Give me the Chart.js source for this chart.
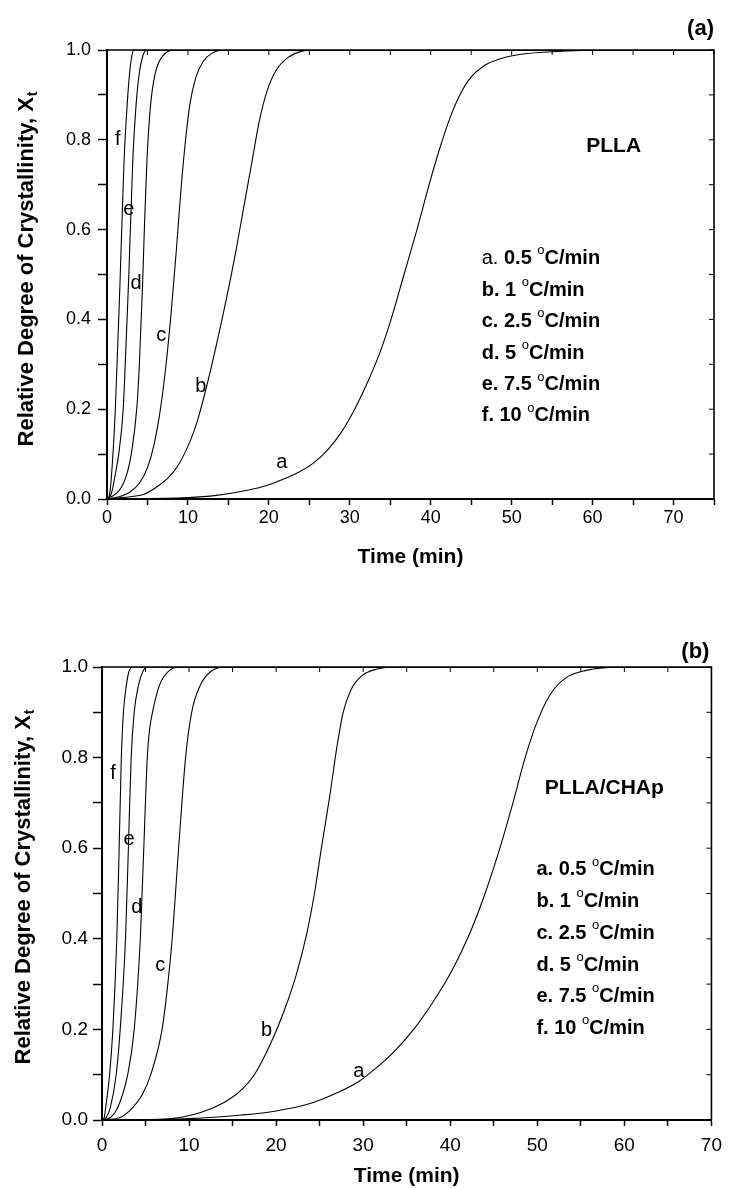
<!DOCTYPE html>
<html>
<head>
<meta charset="utf-8">
<script src="https://cdn.jsdelivr.net/npm/chart.js@4/dist/chart.umd.min.js"></script>
<style>
  html, body { margin: 0; padding: 0; background: #fff; }
  .panel { position: relative; width: 730px; height: 594px; }
</style>
</head>
<body>
<div class="panel"><canvas id="chartPLLA"></canvas></div>
<div class="panel"><canvas id="chartCHAp"></canvas></div>
<script>
// relative crystallinity Xt vs time (min) as [t, Xt]
// (a) PLLA
const pllaA = [[0,0],[10,0.003],[13.5,0.008],[17.5,0.02],[19.75,0.03],[21.5,0.042],[23.5,0.058],[25.5,0.08],[27.3,0.11],[29,0.15],[30.6,0.2],[32.2,0.26],[33.8,0.33],[35.1,0.4],[36.7,0.5],[38.3,0.6],[39.8,0.7],[41.1,0.78],[42.4,0.85],[43.6,0.9],[45,0.94],[46.6,0.965],[48.5,0.98],[51,0.99],[55,0.996],[62,1],[75,1]];
const pllaB = [[0,0],[3.3,0.006],[4.5,0.01],[6,0.025],[7.7,0.05],[8.8,0.075],[10.3,0.13],[11.1,0.17],[12.3,0.25],[13.6,0.35],[14.8,0.45],[15.9,0.55],[16.9,0.65],[17.9,0.75],[18.8,0.84],[19.8,0.91],[20.9,0.955],[22.5,0.985],[24,0.997],[26,1],[75,1]];
const pllaC = [[0,0],[1.5,0.005],[2.8,0.015],[4,0.035],[5,0.07],[5.8,0.12],[6.6,0.2],[7.3,0.3],[7.95,0.42],[8.55,0.55],[9.1,0.68],[9.65,0.79],[10.25,0.88],[11,0.94],[11.9,0.975],[13,0.993],[14.5,1],[75,1]];
const pllaD = [[0,0],[1.2,0.013],[1.9,0.03],[2.5,0.058],[3,0.1],[3.7,0.206],[4,0.3],[4.4,0.48],[4.65,0.62],[4.95,0.76],[5.4,0.88],[5.96,0.948],[6.8,0.985],[8.6,1],[75,1]];
const pllaE = [[0,0],[0.5,0.01],[1.03,0.055],[1.45,0.1],[2,0.2],[2.3,0.32],[2.7,0.5],[3.2,0.76],[3.6,0.88],[4,0.95],[4.4,0.985],[4.9,1],[75,1]];
const pllaF = [[0,0],[0.25,0.005],[0.5,0.04],[1.03,0.2],[1.64,0.5],[2.1,0.75],[2.5,0.88],[2.8,0.95],[3.05,0.985],[3.3,1],[75,1]];

// (b) PLLA/CHAp
const chapA = [[0,0],[10,0.003],[16,0.011],[20,0.02],[24,0.037],[27,0.06],[29.5,0.085],[31.5,0.115],[33.5,0.15],[35.8,0.2],[38,0.26],[40.2,0.33],[42.2,0.41],[44,0.5],[45.7,0.6],[47.2,0.7],[48.6,0.8],[50,0.88],[51.5,0.94],[53.2,0.975],[55.5,0.992],[60,1],[70,1]];
const chapB = [[0,0],[5,0.0005],[8,0.003],[10.3,0.011],[12.5,0.025],[14.5,0.044],[16.2,0.07],[17.5,0.1],[19.4,0.17],[20.9,0.24],[22.3,0.32],[23.5,0.41],[24.4,0.5],[25.2,0.6],[26.2,0.72],[26.95,0.82],[27.7,0.9],[28.6,0.95],[29.8,0.98],[31.5,0.995],[34,1],[70,1]];
const chapC = [[0,0],[2,0.005],[3.5,0.027],[4.6,0.055],[5.6,0.1],[6.9,0.2],[7.5,0.29],[8.06,0.4],[8.8,0.6],[9.6,0.8],[10.3,0.9],[11.3,0.96],[12.5,0.99],[14.2,1],[70,1]];
const chapD = [[0,0],[1,0.006],[1.8,0.027],[2.95,0.1],[3.7,0.2],[4.4,0.4],[4.8,0.6],[5.2,0.8],[5.45,0.86],[5.8,0.9],[6.6,0.96],[7.6,0.99],[9,1],[70,1]];
const chapE = [[0,0],[0.5,0.006],[0.95,0.027],[1.63,0.1],[2.09,0.2],[2.7,0.4],[3.03,0.6],[3.35,0.8],[3.7,0.9],[4.2,0.96],[4.7,0.99],[5.2,1],[70,1]];
const chapF = [[0,0],[0.25,0.005],[0.42,0.027],[0.87,0.1],[1.25,0.2],[1.7,0.4],[1.97,0.6],[2.22,0.8],[2.46,0.9],[2.8,0.96],[3.1,0.99],[3.5,1],[70,1]];

const curveLetters = ['a', 'b', 'c', 'd', 'e', 'f'];
const coolingRates = ['0.5', '1', '2.5', '5', '7.5', '10'];

const FONT = "'Liberation Sans', Arial, Helvetica, sans-serif";

// draws frame, inward ticks, curve letters, sample name and rate list
const annotations = {
  id: 'annotations',
  afterDatasetsDraw(chart, args, o) {
    const { ctx, chartArea: area, scales: { x, y } } = chart;
    ctx.save();
    ctx.strokeStyle = '#000';
    ctx.fillStyle = '#000';

    // top and right sides of the box
    ctx.lineWidth = 1.6;
    ctx.beginPath();
    ctx.moveTo(area.left, area.top);
    ctx.lineTo(area.right, area.top);
    ctx.lineTo(area.right, area.bottom);
    ctx.stroke();

    // mirrored ticks pointing inward
    ctx.lineWidth = 1;
    ctx.beginPath();
    x.ticks.forEach(t => {
      const px = x.getPixelForValue(t.value);
      ctx.moveTo(px, area.top);
      ctx.lineTo(px, area.top + 5);
    });
    y.ticks.forEach(t => {
      const py = y.getPixelForValue(t.value);
      ctx.moveTo(area.right, py);
      ctx.lineTo(area.right - 5, py);
    });
    ctx.stroke();

    // letters next to each curve
    ctx.textAlign = 'center';
    ctx.textBaseline = 'middle';
    ctx.font = `20px ${FONT}`;
    o.curveTags.forEach((p, i) => {
      ctx.fillText(curveLetters[i], x.getPixelForValue(p[0]), y.getPixelForValue(p[1]));
    });

    // sample name
    ctx.font = `bold 21px ${FONT}`;
    ctx.fillText(o.sample, x.getPixelForValue(o.samplePos[0]), y.getPixelForValue(o.samplePos[1]));

    // panel tag
    ctx.textAlign = 'right';
    ctx.font = `bold 22px ${FONT}`;
    ctx.fillText(o.panel, area.right + o.panelShift[0], area.top + o.panelShift[1]);

    // list of cooling rates
    ctx.textAlign = 'left';
    const lx = x.getPixelForValue(o.listPos[0]);
    o.listRows.forEach((row, i) => {
      const ly = y.getPixelForValue(row);
      const parts = [
        { text: curveLetters[i] + '. ', font: (i === 0 && !o.firstBold ? '' : 'bold ') + `20px ${FONT}`, dy: 0 },
        { text: coolingRates[i] + ' ', font: `bold 20px ${FONT}`, dy: 0 },
        { text: 'o', font: `13px ${FONT}`, dy: -8 },
        { text: 'C/min', font: `bold 20px ${FONT}`, dy: 0 }
      ];
      let cx = lx;
      parts.forEach(p => {
        ctx.font = p.font;
        ctx.fillText(p.text, cx, ly + p.dy);
        cx += ctx.measureText(p.text).width;
      });
    });

    // y axis title with subscript t
    const main = 'Relative Degree of Crystallinity, X';
    ctx.font = `bold 22px ${FONT}`;
    const wMain = ctx.measureText(main).width;
    ctx.font = `bold 14px ${FONT}`;
    const wSub = ctx.measureText('t').width;
    ctx.translate(o.yTitleX, (area.top + area.bottom) / 2 + o.yTitleShift);
    ctx.rotate(-Math.PI / 2);
    const start = -(wMain + wSub) / 2;
    ctx.font = `bold 22px ${FONT}`;
    ctx.fillText(main, start, 0);
    ctx.font = `bold 14px ${FONT}`;
    ctx.fillText('t', start + wMain + 1, 6);
    ctx.restore();
  }
};

function series(list) {
  return list.map((pts, i) => ({
    label: curveLetters[i],
    data: pts.map(([t, v]) => ({ x: t, y: v })),
    borderColor: '#000',
    borderWidth: 1.1,
    pointRadius: 0,
    fill: false,
    cubicInterpolationMode: 'monotone'
  }));
}

function makeChart(id, cfg) {
  return new Chart(document.getElementById(id), {
    type: 'line',
    data: { datasets: series(cfg.curves) },
    options: {
      responsive: true,
      maintainAspectRatio: false,
      animation: false,
      layout: { padding: cfg.padding },
      plugins: {
        legend: { display: false },
        tooltip: { enabled: false },
        annotations: cfg.notes
      },
      scales: {
        x: {
          type: 'linear',
          min: 0,
          max: cfg.xMax,
          border: { color: '#000', width: 2 },
          grid: { drawOnChartArea: false, color: '#000', tickLength: 6, tickWidth: 1.5 },
          ticks: {
            stepSize: 5,
            autoSkip: false,
            maxRotation: 0,
            color: '#000',
            padding: cfg.xTickPad,
            font: { family: FONT, size: cfg.tickSize },
            callback: v => (v % 10 === 0 ? String(v) : '')
          },
          title: {
            display: true,
            text: 'Time (min)',
            color: '#000',
            font: { family: FONT, size: 21, weight: 'bold', lineHeight: 1 },
            padding: { top: 0, bottom: cfg.xTitlePad }
          },
          afterFit: s => { s.height = cfg.xHeight; }
        },
        y: {
          type: 'linear',
          min: 0,
          max: 1,
          border: { color: '#000', width: 2 },
          grid: { drawOnChartArea: false, color: '#000', tickLength: 9, tickWidth: 1.5 },
          ticks: {
            stepSize: 0.1,
            autoSkip: false,
            color: '#000',
            padding: cfg.yTickPad,
            font: { family: FONT, size: cfg.tickSize },
            callback: v => (Math.round(v * 10) % 2 === 0 ? v.toFixed(1) : '')
          },
          afterFit: s => { s.width = cfg.yWidth; }
        }
      }
    },
    plugins: [annotations]
  });
}

makeChart('chartPLLA', {
  curves: [pllaA, pllaB, pllaC, pllaD, pllaE, pllaF],
  xMax: 75,
  padding: { top: 50, right: 16, left: 0, bottom: 0 },
  xHeight: 95,
  yWidth: 107,
  xTickPad: 2,
  yTickPad: 7,
  tickSize: 18,
  xTitlePad: 26,
  notes: {
    curveTags: [[21.6, 0.081], [11.6, 0.25], [6.7, 0.364], [3.6, 0.481], [2.7, 0.644], [1.33, 0.8]],
    sample: 'PLLA',
    samplePos: [62.6, 0.785],
    panel: '(a)',
    panelShift: [0, -21],
    listPos: [46.3, 0],
    listRows: [0.535, 0.465, 0.395, 0.325, 0.254, 0.185],
    firstBold: false,
    yTitleX: 27,
    yTitleShift: -5
  }
});

makeChart('chartCHAp', {
  curves: [chapA, chapB, chapC, chapD, chapE, chapF],
  xMax: 70,
  padding: { top: 73, right: 11, left: 0, bottom: 0 },
  xHeight: 68,
  yWidth: 102,
  xTickPad: 8,
  yTickPad: 5,
  tickSize: 19,
  xTitlePad: 1,
  notes: {
    curveTags: [[29.5, 0.108], [18.9, 0.198], [6.7, 0.342], [4.0, 0.469], [3.1, 0.619], [1.27, 0.764]],
    sample: 'PLLA/CHAp',
    samplePos: [57.7, 0.733],
    panel: '(b)',
    panelShift: [-2, -15],
    listPos: [49.9, 0],
    listRows: [0.552, 0.482, 0.412, 0.342, 0.272, 0.202],
    firstBold: true,
    yTitleX: 24,
    yTitleShift: -6
  }
});
</script>
</body>
</html>
